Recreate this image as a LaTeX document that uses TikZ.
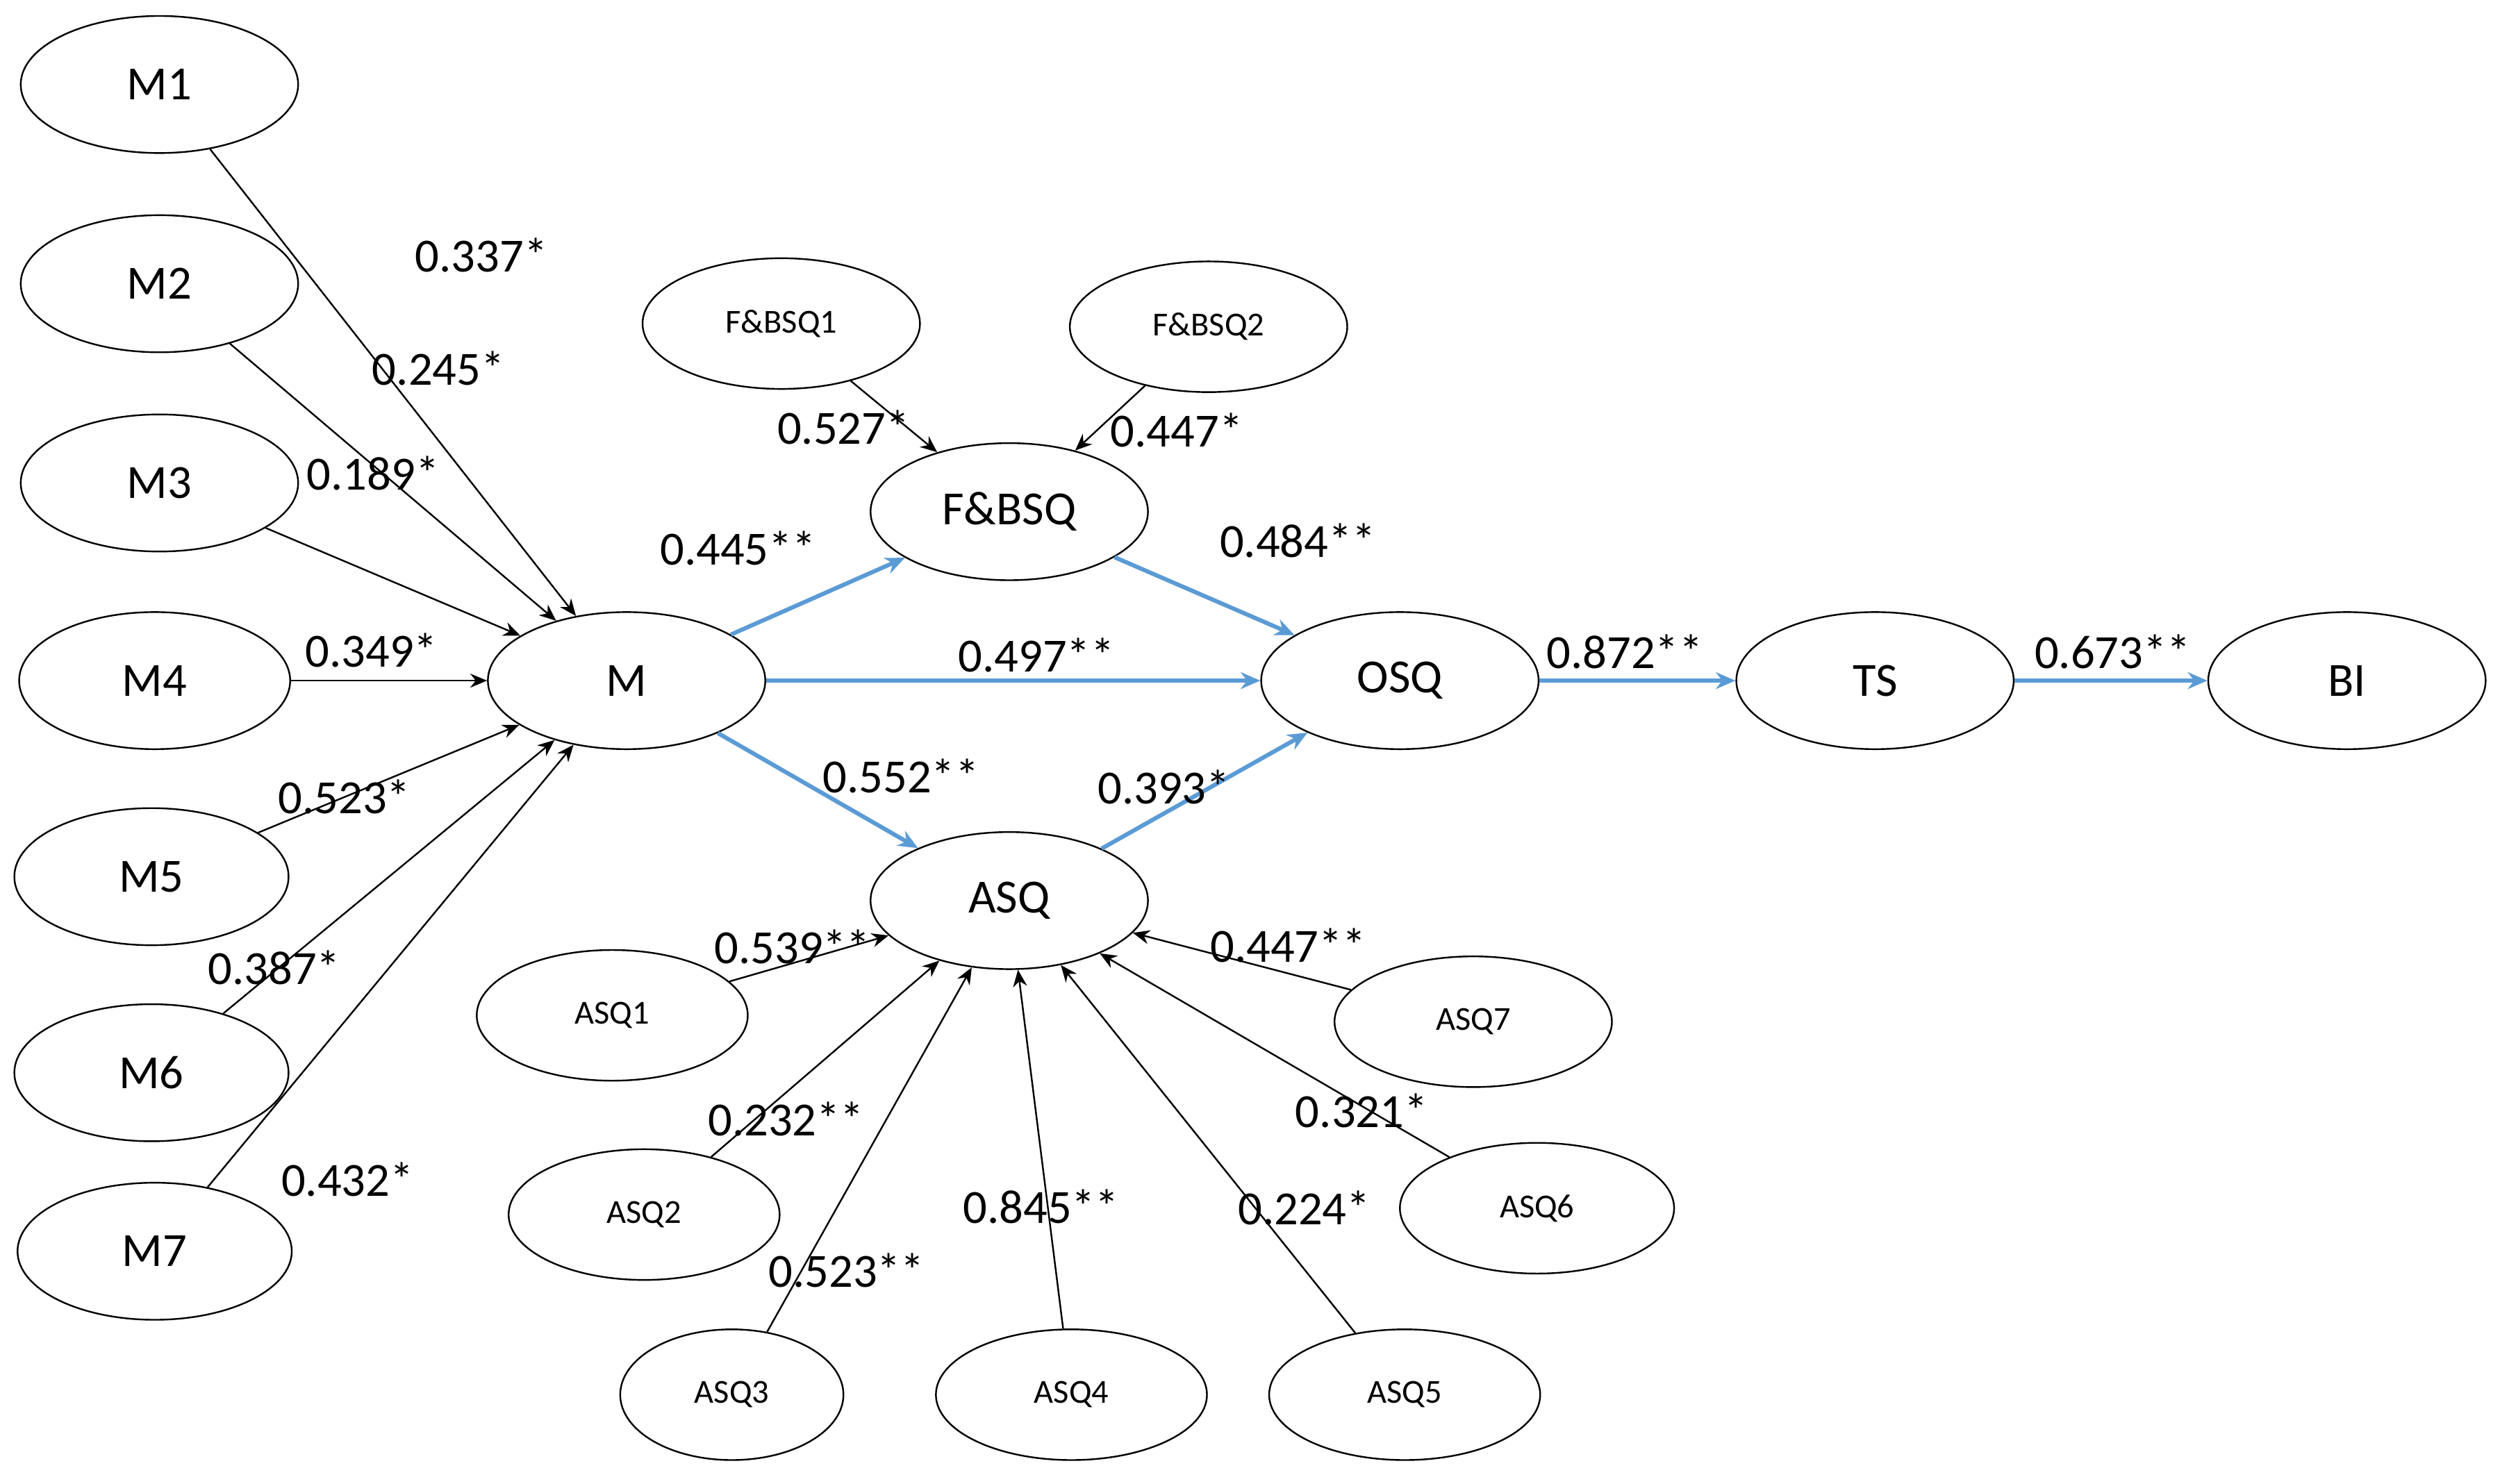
\documentclass[tikz,border=0pt]{standalone}
\usepackage{fontspec}
\setmainfont{Carlito}
\usetikzlibrary{shapes.geometric,arrows.meta}
\begin{document}
\begin{tikzpicture}[x=0.02cm,y=-0.02cm,
 el/.style={ellipse,draw,line width=0.6pt,inner sep=0pt,minimum width=174*0.02cm,minimum height=86*0.02cm,font=\fontsize{17}{17}\selectfont},
 sel/.style={el,minimum height=82*0.02cm,font=\fontsize{12}{12}\selectfont},
 blk/.style={draw,line width=0.6pt,-{Stealth[length=6pt,width=5pt]}},
 blu/.style={draw=blue1,line width=1.5pt,-{Stealth[length=7pt,width=6pt]}},
 lb/.style={font=\fontsize{17}{17}\selectfont,inner sep=0pt}]
\definecolor{blue1}{RGB}{91,155,213}
\useasboundingbox (0,0) rectangle (1568,931);
\node[el] (M1) at (100,53) {M1};
\node[el] (M2) at (100,178) {M2};
\node[el] (M3) at (100,303) {M3};
\node[el,minimum width=170*0.02cm] (M4) at (97,427) {M4};
\node[el,minimum width=172*0.02cm] (M5) at (95,550) {M5};
\node[el,minimum width=172*0.02cm] (M6) at (95,673) {M6};
\node[el,minimum width=172*0.02cm] (M7) at (97,785) {M7};
\node[el] (M) at (393,427) {M};
\node[sel] (FB1) at (490,203) {F\&BSQ1};
\node[sel] (FB2) at (758,205) {F\&BSQ2};
\node[el] (FB) at (633,321) {F\&BSQ};
\node[el] (OSQ) at (878,427) {OSQ};
\node[el] (TS) at (1176,427) {TS};
\node[el] (BI) at (1472,427) {BI};
\node[el] (ASQ) at (633,565) {ASQ};
\node[sel,minimum width=170*0.02cm] (A1) at (384,637) {ASQ1};
\node[sel,minimum width=170*0.02cm] (A2) at (404,762) {ASQ2};
\node[sel,minimum width=140*0.02cm] (A3) at (459,875) {ASQ3};
\node[sel,minimum width=170*0.02cm] (A4) at (672,875) {ASQ4};
\node[sel,minimum width=170*0.02cm] (A5) at (881,875) {ASQ5};
\node[sel,minimum width=172*0.02cm] (A6) at (964,758) {ASQ6};
\node[sel] (A7) at (924,641) {ASQ7};
\foreach \n in {M1,M2,M3,M4,M5,M6,M7} \path[blk] (\n) -- (M);
\path[blk] (FB1) -- (FB); \path[blk] (FB2) -- (FB);
\foreach \n in {A1,A2,A3,A4,A5,A6,A7} \path[blk] (\n) -- (ASQ);
\path[blu] (M) -- (FB); \path[blu] (M) -- (OSQ); \path[blu] (M) -- (ASQ);
\path[blu] (FB) -- (OSQ); \path[blu] (ASQ) -- (OSQ);
\path[blu] (OSQ) -- (TS); \path[blu] (TS) -- (BI);
\node[lb] at (302,160) {0.337*};
\node[lb] at (275,231) {0.245*};
\node[lb] at (234,297) {0.189*};
\node[lb] at (233,408) {0.349*};
\node[lb] at (216,500) {0.523*};
\node[lb] at (172,607) {0.387*};
\node[lb] at (218,740) {0.432*};
\node[lb] at (463,344) {0.445**};
\node[lb] at (529,268) {0.527*};
\node[lb] at (738,270) {0.447*};
\node[lb] at (814,339) {0.484**};
\node[lb] at (650,411) {0.497**};
\node[lb] at (565,487) {0.552**};
\node[lb] at (730,494) {0.393*};
\node[lb] at (1019,409) {0.872**};
\node[lb] at (1325,409) {0.673**};
\node[lb] at (497,594) {0.539**};
\node[lb] at (808,593) {0.447**};
\node[lb] at (493,702) {0.232**};
\node[lb] at (854,697) {0.321*};
\node[lb] at (653,757) {0.845**};
\node[lb] at (818,758) {0.224*};
\node[lb] at (531,797) {0.523**};
\end{tikzpicture}
\end{document}
